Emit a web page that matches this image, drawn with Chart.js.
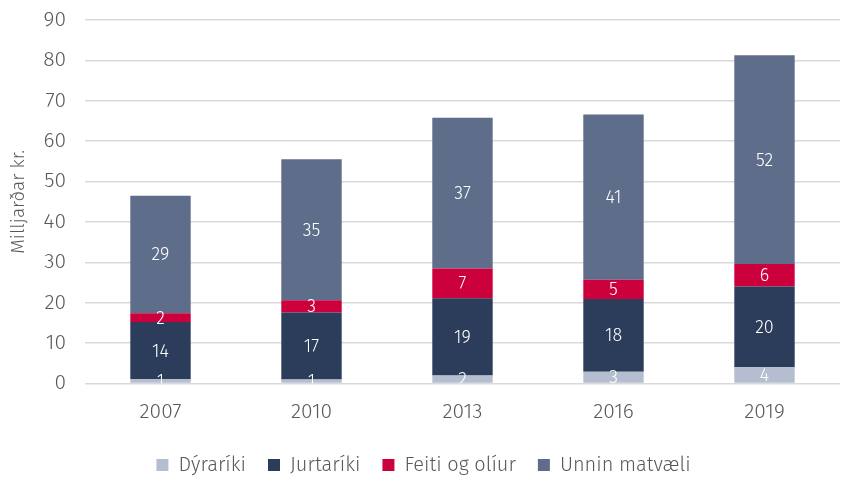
<!DOCTYPE html>
<html lang="is">
<head>
<meta charset="UTF-8" />
<title>Milljarðar kr.</title>
<script src="https://cdn.jsdelivr.net/npm/chart.js"></script>
<style>
  html, body { margin: 0; padding: 0; background: #fff; }
  .wrap { width: 843px; height: 478px; }
</style>
</head>
<body>
<div class="wrap"><canvas id="graf"></canvas></div>
<script>
const ar = ['2007', '2010', '2013', '2016', '2019'];
const dyrariki = [1.1, 1.0, 2.0, 2.9, 4.0];
const jurtariki = [14.1, 16.6, 19.1, 18.0, 20.0];
const feiti = [2.2, 3.0, 7.4, 4.8, 5.6];
const unnin = [29.1, 34.9, 37.3, 40.9, 51.7];
const yTicks = [0, 10, 20, 30, 40, 50, 60, 70, 80, 90];

const textColor = '#595959';
const font = "'Fira Sans', 'Noto Sans', sans-serif";

// tölur inni í súlunum
const gildiPlugin = {
  id: 'gildi',
  afterDatasetsDraw(chart) {
    const ctx = chart.ctx;
    const a = chart.chartArea;
    ctx.save();
    ctx.beginPath();
    ctx.rect(a.left, a.top, a.right - a.left, a.bottom - a.top);
    ctx.clip();
    ctx.fillStyle = '#ffffff';
    ctx.font = '300 18px ' + font;
    ctx.textAlign = 'center';
    ctx.textBaseline = 'middle';
    chart.data.datasets.forEach((ds, i) => {
      chart.getDatasetMeta(i).data.forEach((bar, j) => {
        const mid = (bar.y + bar.base) / 2;
        ctx.fillText(Math.round(ds.data[j]), bar.x, mid + 1);
      });
    });
    ctx.restore();
  }
};

new Chart(document.getElementById('graf'), {
  type: 'bar',
  data: {
    labels: ar,
    datasets: [
      { label: 'Dýraríki', data: dyrariki, backgroundColor: '#b5bed0' },
      { label: 'Jurtaríki', data: jurtariki, backgroundColor: '#2b3d5a' },
      { label: 'Feiti og olíur', data: feiti, backgroundColor: '#cc003d' },
      { label: 'Unnin matvæli', data: unnin, backgroundColor: '#5e6d8a' }
    ]
  },
  options: {
    responsive: true,
    maintainAspectRatio: false,
    animation: false,
    layout: { padding: { top: 20, right: 3, left: 7, bottom: 0 } },
    datasets: { bar: { categoryPercentage: 1, barPercentage: 0.4, borderWidth: 0 } },
    scales: {
      x: {
        stacked: true,
        afterFit: s => { s.height = 49.5; },
        grid: { display: false, drawTicks: false },
        border: { display: false },
        ticks: { color: textColor, font: { size: 21, family: font, weight: 300 }, padding: 16 }
      },
      y: {
        stacked: true,
        min: 0,
        max: 90,
        afterBuildTicks: s => { s.ticks = yTicks.map(v => ({ value: v })); },
        afterFit: s => { s.width = 78; s.paddingTop = 0; s.paddingBottom = 0; },
        grid: { color: '#d9d9d9', lineWidth: 1.5, drawTicks: false },
        border: { display: false },
        ticks: { color: textColor, font: { size: 21, family: font, weight: 300 }, padding: 19 },
        title: { display: true, text: 'Milljarðar kr.', color: textColor, font: { size: 19, family: font, weight: 300 }, padding: 0 }
      }
    },
    plugins: {
      legend: {
        position: 'bottom',
        maxHeight: 45,
        labels: { color: textColor, font: { size: 20, family: font, weight: 300 }, boxWidth: 12, boxHeight: 12, padding: 22 }
      },
      tooltip: { enabled: false }
    }
  },
  plugins: [gildiPlugin]
});
</script>
</body>
</html>
